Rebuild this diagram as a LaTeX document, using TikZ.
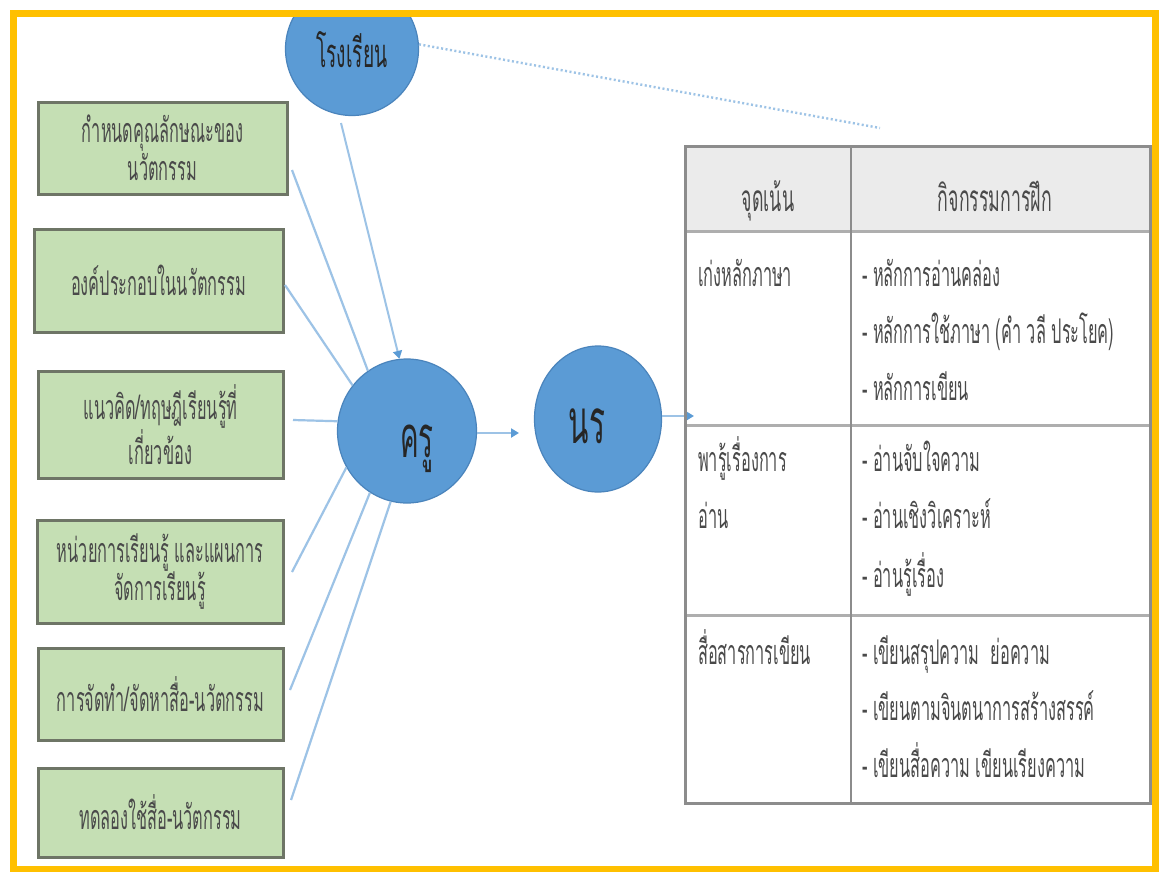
\documentclass[tikz,border=0pt]{standalone}
\usepackage{fontspec}
\usetikzlibrary{shapes.geometric,arrows.meta}
\newfontfamily\thai[Script=Thai,FakeStretch=0.55]{Loma}
\newfontfamily\thain[Script=Thai,FakeStretch=0.48]{Loma}
\definecolor{frameY}{HTML}{FFC000}
\definecolor{boxG}{HTML}{C5DFB4}
\definecolor{boxB}{HTML}{6E7566}
\definecolor{cirB}{HTML}{5B9BD5}
\definecolor{cirD}{HTML}{4A84BC}
\definecolor{lnB}{HTML}{9DC3E6}
\definecolor{tabL}{HTML}{8C8C8C}
\definecolor{tabH}{HTML}{EBEBEB}
\definecolor{txtG}{HTML}{4A4A4A}
\tikzset{
  greenbox/.style={draw=boxB, line width=3pt, fill=boxG, inner sep=0pt, align=center,
    text=txtG, font=\thain\fontsize{34}{38}\selectfont},
  bluecirc/.style={draw=cirD, line width=1.2pt, fill=cirB, ellipse, inner sep=0pt},
  link/.style={draw=lnB, line width=2.2pt},
  arr/.style={draw=lnB, line width=2.6pt, -{Triangle[length=8pt,width=9pt,fill=cirB,color=cirB]}},
  celltext/.style={anchor=base west, inner sep=0pt, text=txtG, font=\thain\fontsize{34}{36}\selectfont},
  headtext/.style={anchor=base, inner sep=0pt, text=txtG, font=\thain\fontsize{37}{40}\selectfont},
  circtext/.style={anchor=base, inner sep=0pt, text=black!85},
}
\begin{document}
\begin{tikzpicture}[x=1pt,y=-1pt]
\useasboundingbox (0,0) rectangle (1159,871);
\fill[white] (0,0) rectangle (1159,871);

% boxes
\node[greenbox, minimum width=249pt, minimum height=92pt] (b1) at (162.5,148) {กำหนดคุณลักษณะของ\\นวัตกรรม};
\node[greenbox, minimum width=249pt, minimum height=103pt] (b2) at (158.5,280.5) {องค์ประกอบในนวัตกรรม};
\node[greenbox, minimum width=245pt, minimum height=107pt] (b3) at (160.5,424.5) {แนวคิด/ทฤษฎีเรียนรู้ที่\\เกี่ยวข้อง};
\node[greenbox, minimum width=246pt, minimum height=103pt] (b4) at (160,571.5) {หน่วยการเรียนรู้ และแผนการ\\จัดการเรียนรู้};
\node[greenbox, minimum width=245pt, minimum height=92pt] (b5) at (160.5,694) {การจัดทำ/จัดหาสื่อ-นวัตกรรม};
\node[greenbox, minimum width=245pt, minimum height=89pt] (b6) at (160.5,812.5) {ทดลองใช้สื่อ-นวัตกรรม};

% circles
\node[bluecirc, minimum width=133pt, minimum height=133pt] (rr) at (352,49) {};
\node[circtext, font=\thain\fontsize{40}{44}\selectfont] (rrt) at (352,67) {โรงเรียน};
\node[bluecirc, minimum width=139pt, minimum height=144pt] (kru) at (407,431) {};
\node[circtext, font=\thain\fontsize{58}{60}\selectfont] (krut) at (417,457) {ครู};
\node[bluecirc, minimum width=127pt, minimum height=146pt] (nr) at (598,419) {};
\node[circtext, font=\thain\fontsize{62}{64}\selectfont] (nrt) at (587,443) {นร};

% free ends of the links
\coordinate (s1) at (292,170);
\coordinate (s2) at (285,285);
\coordinate (s3) at (293,420);
\coordinate (s4) at (292,572);
\coordinate (s5) at (290,690);
\coordinate (s6) at (291,800);
\coordinate (rrs) at (341,123);
\coordinate (dotend) at (880,128);
\coordinate (kruend) at (519,433);
\coordinate (nrend) at (694,416);

\draw[link] (s1) -- (kru.123);
\draw[link] (s2) -- (kru.140);
\draw[link] (s3) -- (kru.172);
\draw[link] (s4) -- (kru.211);
\draw[link] (s5) -- (kru.239);
\draw[link] (s6) -- (kru.257);
\draw[arr, line width=2pt] (rrs) -- (kru.96);
\draw[lnB, line width=2.4pt, dash pattern=on 2pt off 2.5pt] (rr.4) -- (dotend);
\draw[arr] (kru.east |- kruend) -- (kruend);
\draw[arr] (nr.east |- nrend) -- (nrend);

% table
\fill[tabH] (685,146) rectangle (1150,231);
\draw[tabL!70, line width=3pt] (685,231) -- (1150,231);
\draw[tabL!70, line width=3pt] (685,425) -- (1150,425);
\draw[tabL!70, line width=3pt] (685,615) -- (1150,615);
\draw[tabL, line width=2pt] (851,146) -- (851,803);
\draw[tabL, line width=3pt] (685,146) rectangle (1150,803);

\node[headtext] (h1) at (768,211) {จุดเน้น};
\node[headtext] (h2) at (995,211) {กิจกรรมการฝึก};

\node[celltext] (r1a) at (698,286) {เก่งหลักภาษา};
\node[celltext] (r1b) at (862,286) {- หลักการอ่านคล่อง};
\node[celltext] (r1c) at (862,343) {- หลักการใช้ภาษา (คำ วลี ประโยค)};
\node[celltext] (r1d) at (862,400) {- หลักการเขียน};

\node[celltext] (r2a) at (698,471) {พารู้เรื่องการ};
\node[celltext] (r2a2) at (698,528) {อ่าน};
\node[celltext] (r2b) at (862,471) {- อ่านจับใจความ};
\node[celltext] (r2c) at (862,528) {- อ่านเชิงวิเคราะห์};
\node[celltext] (r2d) at (862,587) {- อ่านรู้เรื่อง};

\node[celltext] (r3a) at (698,664) {สื่อสารการเขียน};
\node[celltext] (r3b) at (862,664) {- เขียนสรุปความ\ \ ย่อความ};
\node[celltext] (r3c) at (862,720) {- เขียนตามจินตนาการสร้างสรรค์};
\node[celltext] (r3d) at (862,777) {- เขียนสื่อความ เขียนเรียงความ};

% frame
\fill[white] (0,0) rectangle (1159,10);
\draw[frameY, line width=7pt] (13,13.5) rectangle (1155.5,869.5);
\end{tikzpicture}
\end{document}
